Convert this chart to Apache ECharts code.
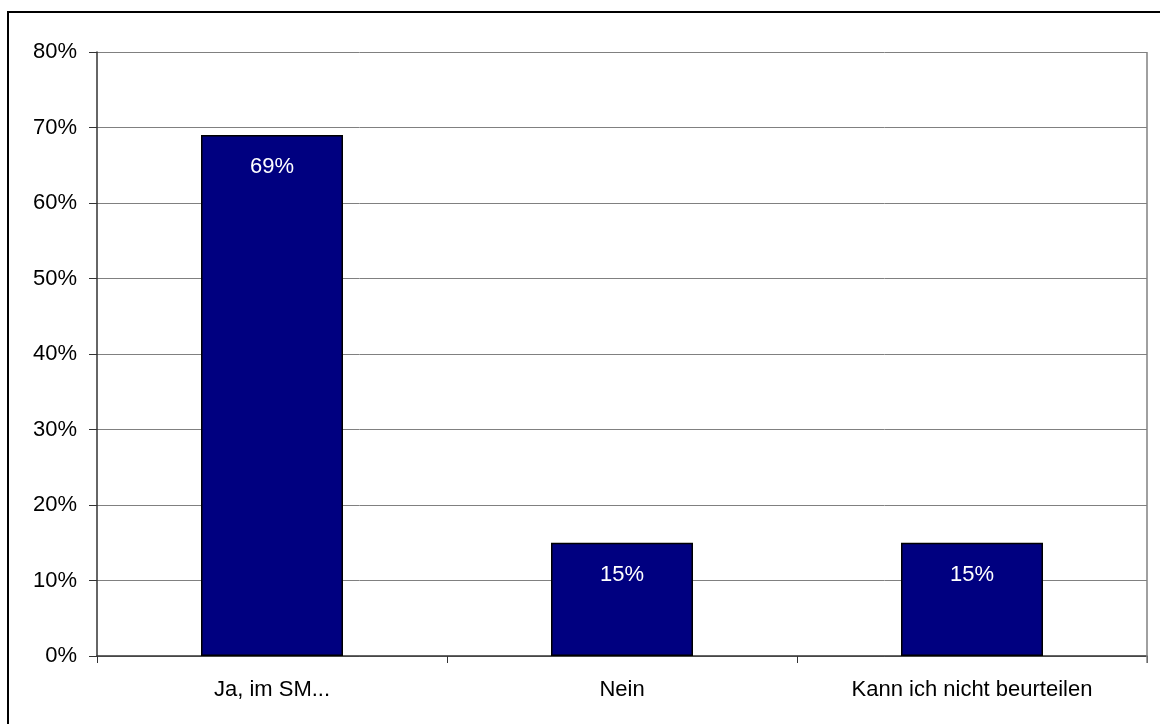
<!DOCTYPE html>
<html>
<head>
<meta charset="utf-8">
<script src="https://cdn.jsdelivr.net/npm/echarts@6/dist/echarts.min.js"></script>
<style>
  html, body { margin: 0; padding: 0; background: #fff; }
  #chart { width: 1160px; height: 724px; }
</style>
</head>
<body>
<div id="chart"></div>
<script>
// Survey answers and their shares (percent)
const categories = ['Ja, im SM...', 'Nein', 'Kann ich nicht beurteilen'];
const shares = [69, 15, 15];
const yTicks = [0, 10, 20, 30, 40, 50, 60, 70, 80];

const chart = echarts.init(document.getElementById('chart'), null, { renderer: 'canvas' });
const font = 'Liberation Sans, Arial, sans-serif';

chart.setOption({
  animation: false,
  backgroundColor: '#ffffff',
  graphic: [
    // outer chart frame
    { type: 'rect', shape: { x: 8, y: 12, width: 1200, height: 800 },
      style: { fill: 'none', stroke: '#000', lineWidth: 2 }, z: 100 },
    // plot area frame (right side)
    { type: 'line', shape: { x1: 1147, y1: 52, x2: 1147, y2: 663 },
      style: { stroke: '#808080', lineWidth: 1.5 }, z: 100 }
  ],
  grid: { left: 97, right: 13, top: 52, bottom: 68, containLabel: false },
  xAxis: {
    type: 'category',
    data: categories,
    axisLine: { show: true, lineStyle: { color: '#333', width: 1.5 } },
    axisTick: { show: true, length: 7, alignWithLabel: false, lineStyle: { color: '#333' } },
    axisLabel: { color: '#000', fontFamily: font, fontSize: 22, margin: 23 },
    splitLine: { show: false }
  },
  yAxis: {
    type: 'value',
    min: yTicks[0],
    max: yTicks[yTicks.length - 1],
    interval: 10,
    axisLine: { show: true, lineStyle: { color: '#333', width: 1.5 } },
    axisTick: { show: true, length: 8, lineStyle: { color: '#333' } },
    axisLabel: { color: '#000', fontFamily: font, fontSize: 22, margin: 20,
      formatter: v => v + '%' },
    splitLine: { show: true, lineStyle: { color: '#808080', width: 1 } }
  },
  series: [{
    type: 'bar',
    data: shares,
    barWidth: 142,
    itemStyle: { color: '#000080', borderColor: '#000', borderWidth: 1.5 },
    label: {
      show: true,
      position: 'insideTop',
      distance: 21,
      color: '#fff',
      fontFamily: font,
      fontSize: 22,
      formatter: p => p.value + '%'
    }
  }]
});
</script>
</body>
</html>
